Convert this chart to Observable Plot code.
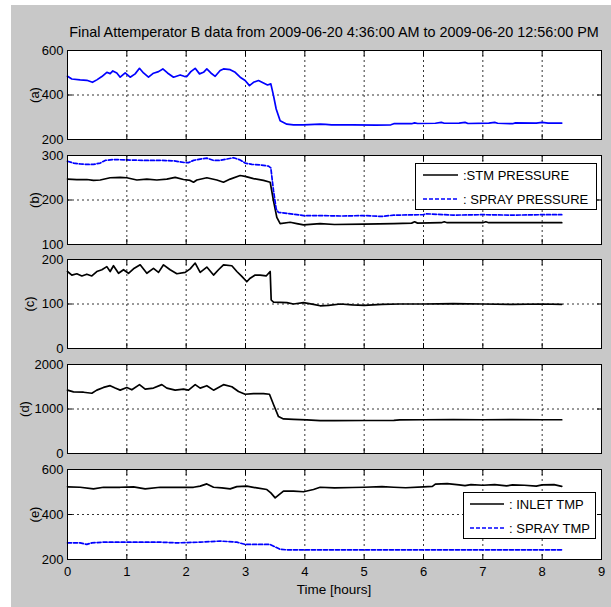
<!DOCTYPE html>
<html><head><meta charset="utf-8">
<script src="https://cdn.jsdelivr.net/npm/d3@7"></script>
<script src="https://cdn.jsdelivr.net/npm/@observablehq/plot@0.6"></script>
<style>
body{margin:0;background:#fff;}
#fig{position:relative;width:611px;height:607px;overflow:hidden;font-family:"Liberation Sans",Arial,sans-serif;color:#000;}
#bg{position:absolute;left:11px;top:5px;right:0;bottom:0;background:#c8c8c8;}
.panel{position:absolute;left:0;}
.txt{position:absolute;line-height:15px;white-space:nowrap;}
</style></head>
<body>
<div id="fig"><div id="bg"></div></div>
<script>
// ---- data (time in hours) ----
const titleText = "Final Attemperator B data from 2009-06-20 4:36:00 AM to 2009-06-20 12:56:00 PM";
const xLabel = "Time [hours]";
const xTicks = [0,1,2,3,4,5,6,7,8,9];

const tA = [0,0.073,0.213,0.326,0.421,0.494,0.579,0.663,0.719,0.764,0.831,0.888,0.972,1.056,1.14,1.213,1.281,1.365,1.449,1.534,1.607,1.685,1.787,1.899,1.966,2.011,2.079,2.152,2.225,2.292,2.348,2.416,2.489,2.573,2.629,2.742,2.826,2.91,2.994,3.067,3.135,3.219,3.303,3.371,3.427,3.472,3.517,3.584,3.697,3.809,3.978,4.258,4.35,4.45,4.8,5.2,5.45,5.5,5.8,5.85,5.9,6.2,6.3,6.35,6.6,6.7,6.75,7.1,7.2,7.25,7.5,7.55,7.9,8.0,8.1,8.33];
const vA = [484,472,468,466,457,468,483,502,496,508,499,480,499,480,495,520,499,480,498,505,517,499,480,490,484,483,505,520,495,502,517,499,484,510,517,514,502,480,465,442,457,465,454,445,450,397,337,284,269,266,266,269,268,266,266,265,266,271,271,275,272,273,277,273,274,277,272,274,277,273,271,275,274,277,274,274];

const tBstm = [0,0.157,0.326,0.438,0.551,0.719,0.888,1.0,1.169,1.337,1.506,1.674,1.815,1.955,2.067,2.124,2.18,2.348,2.517,2.629,2.742,2.91,2.994,3.135,3.303,3.416,3.472,3.528,3.584,3.753,3.865,3.978,4.258,4.5,5.0,5.5,5.8,5.85,5.9,6.3,6.35,6.4,7.0,7.05,7.1,8.33];
const vBstm = [247,246,246,244,245,250,251,250,245,247,245,247,251,246,244,240,245,250,245,240,247,255,253,248,244,240,198,161,147,150,147,144,147,145,146,147,148,151,148,149,151,149,149,151,149,149];
const tBspray = [0,0.101,0.213,0.326,0.438,0.551,0.635,0.775,1.0,1.281,1.562,1.787,1.983,2.039,2.124,2.236,2.348,2.461,2.573,2.685,2.798,2.91,2.994,3.107,3.247,3.388,3.427,3.472,3.517,3.556,3.697,3.809,3.978,4.258,4.6,5.0,5.3,5.5,6.0,6.05,6.5,7.0,7.5,8.0,8.33];
const vBspray = [287,283,281,280,280,283,289,291,290,289,289,288,284,284,289,292,294,289,289,292,295,290,283,280,279,276,272,221,180,172,170,168,165,165,164,165,163,166,167,169,166,167,166,167,167];

const tC = [0,0.073,0.157,0.242,0.326,0.41,0.494,0.579,0.663,0.719,0.775,0.86,0.944,1.028,1.112,1.225,1.337,1.449,1.534,1.618,1.73,1.843,1.983,2.067,2.152,2.236,2.348,2.461,2.545,2.629,2.77,2.854,2.938,3.022,3.079,3.163,3.247,3.348,3.416,3.433,3.472,3.697,3.809,3.978,4.146,4.258,4.4,4.6,4.8,5.0,5.3,5.6,6.0,6.5,7.0,7.5,8.0,8.33];
const vC = [173,165,168,163,167,163,173,177,184,173,186,169,177,169,179,188,169,180,171,188,177,168,171,179,192,171,183,165,177,188,186,173,162,150,158,165,165,163,173,109,104,103,100,103,99,96,97,100,98,97,99,100,100,101,100,99,100,99];

const tD = [0,0.101,0.27,0.41,0.494,0.607,0.719,0.803,0.888,1.0,1.084,1.213,1.309,1.449,1.59,1.674,1.815,1.955,2.039,2.152,2.236,2.348,2.461,2.629,2.77,2.882,2.994,3.135,3.303,3.404,3.472,3.556,3.64,3.809,4.034,4.258,4.5,5.0,5.5,5.6,6.0,6.5,7.0,7.5,8.0,8.33];
const vD = [1424,1385,1377,1354,1424,1485,1524,1470,1424,1485,1431,1547,1447,1470,1547,1470,1424,1447,1424,1547,1470,1524,1424,1547,1500,1393,1331,1347,1347,1331,1100,830,777,769,754,738,740,742,745,755,758,760,758,760,758,758];

const tEinlet = [0,0.213,0.438,0.607,0.888,1.112,1.309,1.562,1.843,2.124,2.236,2.348,2.461,2.601,2.742,2.854,3.022,3.191,3.36,3.427,3.5,3.556,3.64,3.809,3.978,4.146,4.258,4.5,4.8,5.0,5.3,5.5,5.7,6.0,6.15,6.2,6.4,6.6,6.7,6.8,7.0,7.2,7.4,7.5,7.7,7.9,8.0,8.2,8.33];
const vEinlet = [523,521,514,521,521,523,514,521,521,521,526,536,521,518,514,524,526,518,511,496,474,486,504,504,501,511,521,518,520,521,524,521,519,523,525,535,537,532,528,533,530,533,527,532,530,526,532,533,525];
const tEspray = [0,0.213,0.326,0.41,0.607,0.888,1.281,1.562,1.843,2.236,2.573,2.854,2.994,3.247,3.416,3.584,3.697,4.258,8.33];
const vEspray = [274,274,267,274,277,277,277,277,274,277,282,277,267,267,267,245,243,243,243];

const panelLabels = ["(a)","(b)","(c)","(d)","(e)"];
const yDomains = [[200,600],[100,300],[0,200],[0,2000],[200,600]];
const yTicks = [[200,400,600],[100,200,300],[0,100,200],[0,1000,2000],[200,400,600]];
const legendB = [":STM PRESSURE", ": SPRAY PRESSURE"];
const legendE = [": INLET TMP", ": SPRAY TMP"];

// ---- layout ----
const BLUE = "#0000ff";
const FONT = '"Liberation Sans", Arial, sans-serif';
const fig = document.getElementById("fig");
const frames = [[50,139],[155,244],[259,348],[364,453],[469,559]];
const labelDx = [-33,-33,-38,-43,-33];
const seriesByPanel = [
  [{t:tA, v:vA, color:BLUE, dash:null}],
  [{t:tBstm, v:vBstm, color:"black", dash:null},{t:tBspray, v:vBspray, color:BLUE, dash:"4,2"}],
  [{t:tC, v:vC, color:"black", dash:null}],
  [{t:tD, v:vD, color:"black", dash:null}],
  [{t:tEinlet, v:vEinlet, color:"black", dash:null},{t:tEspray, v:vEspray, color:BLUE, dash:"4,2"}]
];
const fmt = d => String(d);

frames.forEach(([top, bottom], i) => {
  const last = i === 4;
  const mt = 15, mb = last ? 607 - bottom : 15;
  const h = bottom - top + mt + mb;
  const grid = {stroke:"black", strokeOpacity:1, strokeWidth:0.8, strokeDasharray:"2,3"};
  const marks = [
    Plot.gridX(xTicks.slice(1, -1), grid),
    Plot.gridY([yTicks[i][1]], grid),
    ...seriesByPanel[i].map(s => Plot.line(s.t, {x: s.t, y: s.v, stroke: s.color, strokeWidth: 1.7, strokeDasharray: s.dash})),
    Plot.frame({stroke:"black", strokeWidth:1}),
    Plot.axisY(yTicks[i], {anchor:"left", tickSize:0, tickPadding:4, tickFormat:fmt, label:null}),
    Plot.axisY(yTicks[i], {anchor:"left", tickSize:-5, fill:"none", label:null}),
    Plot.axisY(yTicks[i], {anchor:"right", tickSize:-5, fill:"none", label:null}),
    Plot.axisX(xTicks, {anchor:"bottom", tickSize:-5, fill:"none", label:null}),
    Plot.axisX(xTicks, {anchor:"top", tickSize:-5, fill:"none", label:null}),
    Plot.text([panelLabels[i]], {text: d => d, frameAnchor:"left", dx: labelDx[i], rotate:-90, textAnchor:"middle", lineAnchor:"middle", fontSize:13})
  ];
  if (last) marks.push(Plot.axisX(xTicks, {anchor:"bottom", tickSize:0, tickPadding:7, tickFormat:fmt, label:null}));
  const plot = Plot.plot({
    width: 611, height: h,
    marginLeft: 67, marginRight: 10, marginTop: mt, marginBottom: mb,
    x: {domain:[0,9], label:null},
    y: {domain: yDomains[i], label:null},
    style: {background:"#ffffff00", overflow:"visible", fontSize:"13px", fontFamily:FONT, color:"black"},
    marks
  });
  plot.classList.add("panel");
  plot.style.top = (top - mt) + "px";
  const bgBox = document.createElement("div");
  bgBox.style.cssText = `position:absolute;left:67px;top:${top}px;width:${611-10-67}px;height:${bottom-top}px;background:#fff;`;
  fig.appendChild(bgBox);
  fig.appendChild(plot);
});

// title and x label
const t = document.createElement("div");
t.className = "txt"; t.textContent = titleText;
t.style.cssText += "left:34px;width:600px;text-align:center;top:25px;font-size:14.4px;";
fig.appendChild(t);
const xl = document.createElement("div");
xl.className = "txt"; xl.textContent = xLabel;
xl.style.cssText += "left:67px;width:534px;text-align:center;top:582px;font-size:13.5px;";
fig.appendChild(xl);

// legends
function legend(left, top, w, h, labels, styles, lineX0, lineX1, textX) {
  const svg = d3.select(fig).append("svg")
    .attr("width", w).attr("height", h)
    .style("position","absolute").style("left", left+"px").style("top", top+"px");
  svg.append("rect").attr("x",0.5).attr("y",0.5).attr("width",w-1).attr("height",h-1)
    .attr("fill","white").attr("stroke","black");
  labels.forEach((lab, k) => {
    const cy = 12 + 24*k;
    svg.append("line").attr("x1",lineX0).attr("x2",lineX1).attr("y1",cy).attr("y2",cy)
      .attr("stroke",styles[k].color).attr("stroke-width",1.7).attr("stroke-dasharray",styles[k].dash);
    svg.append("text").attr("x",textX).attr("y",cy).attr("dy","0.35em")
      .style("font-family",FONT).style("font-size","13px").text(lab);
  });
}
legend(415, 163, 182, 47, legendB, [{color:"black",dash:null},{color:BLUE,dash:"4,2"}], 8, 43, 48);
legend(463, 492, 133, 47, legendE, [{color:"black",dash:null},{color:BLUE,dash:"4,2"}], 7, 41, 46);
</script>
</body></html>
